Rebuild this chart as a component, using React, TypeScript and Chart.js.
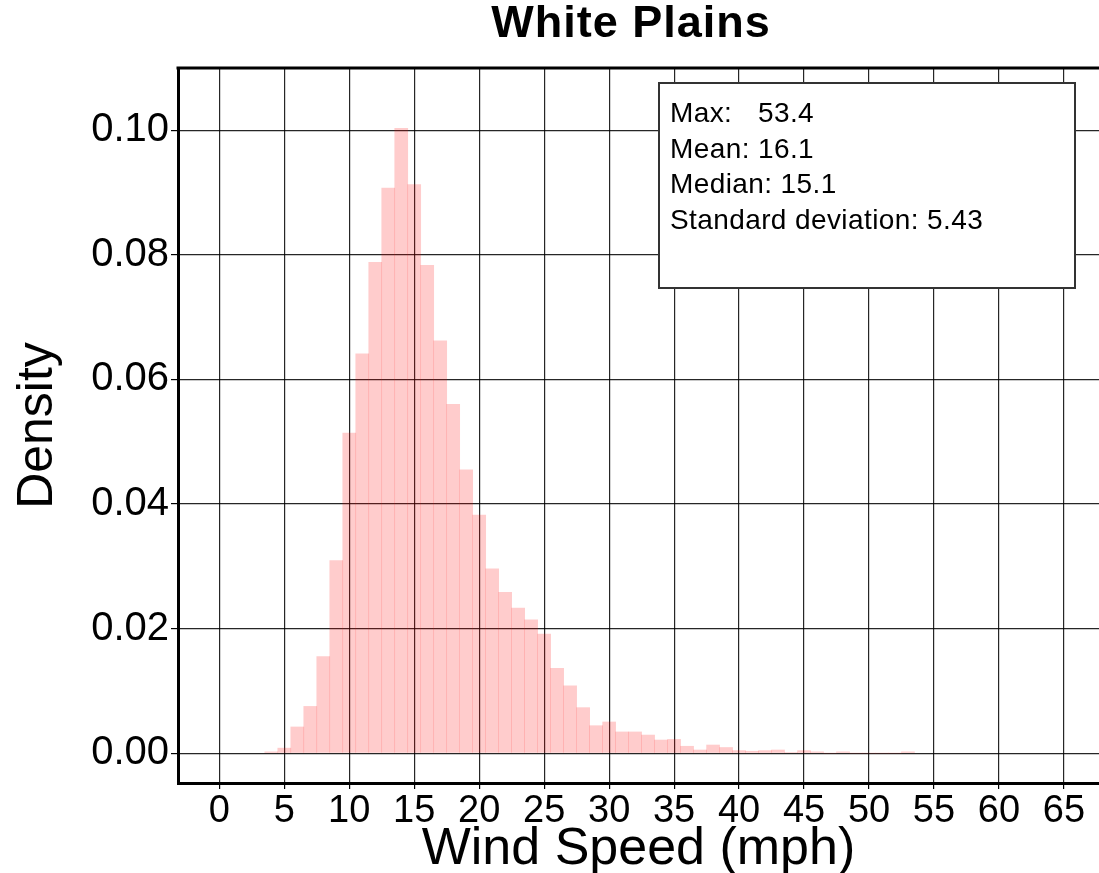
import React, { useEffect, useRef } from "react";
import { Chart, registerables } from "chart.js";

Chart.register(...registerables);

const chartTitle = "White Plains";
const xAxisTitle = "Wind Speed (mph)";
const yAxisTitle = "Density";

const binCenters = [
  4, 5, 6, 7, 8, 9, 10, 11, 12, 13, 14, 15, 16, 17, 18, 19, 20, 21, 22, 23, 24, 25, 26, 27, 28,
  29, 30, 31, 32, 33, 34, 35, 36, 37, 38, 39, 40, 41, 42, 43, 44, 45, 46, 47, 48, 49, 50, 51, 52, 53,
];
const densities = [
  0.0002, 0.0008, 0.0042, 0.0075, 0.0155, 0.0309, 0.0514, 0.0641, 0.0788, 0.0907, 0.1003, 0.0913,
  0.0783, 0.0662, 0.056, 0.0455, 0.0382, 0.0296, 0.0258, 0.0233, 0.0214, 0.0191, 0.0136, 0.0108,
  0.0073, 0.0044, 0.005, 0.0034, 0.0034, 0.0029, 0.0021, 0.0022, 0.0011, 0.0005, 0.0013, 0.0009,
  0.0004, 0.0003, 0.0004, 0.0005, 0.0001, 0.0004, 0.0002, 0, 0.0002, 0, 0, 0, 0, 0.0002,
];
const xTicks = [0, 5, 10, 15, 20, 25, 30, 35, 40, 45, 50, 55, 60, 65];
const yTicks = [0, 0.02, 0.04, 0.06, 0.08, 0.1];
const statLabels = ["Max:", "Mean:", "Median:", "Standard deviation:"];
const statValues = ["53.4", "16.1", "15.1", "5.43"];

const FONT = "'Liberation Sans', Arial, Helvetica, sans-serif";

const decorPlugin = {
  id: "decor",
  afterDraw(chart: any) {
    const { ctx, chartArea } = chart;
    ctx.save();
    // top frame line
    ctx.strokeStyle = "#000";
    ctx.lineWidth = 3;
    ctx.beginPath();
    ctx.moveTo(chartArea.left - 1.5, chartArea.top);
    ctx.lineTo(chartArea.right, chartArea.top);
    ctx.stroke();

    // title
    ctx.fillStyle = "#000";
    ctx.font = `bold 45px ${FONT}`;
    (ctx as any).letterSpacing = "1px";
    ctx.textAlign = "center";
    ctx.textBaseline = "alphabetic";
    ctx.fillText(chartTitle, 631, 37);

    // stats box
    const bx = 659, by = 83, bw = 416, bh = 205;
    ctx.fillStyle = "#fff";
    ctx.fillRect(bx, by, bw, bh);
    ctx.strokeStyle = "#333";
    ctx.lineWidth = 2;
    ctx.strokeRect(bx, by, bw, bh);
    ctx.fillStyle = "#000";
    ctx.font = `28px ${FONT}`;
    (ctx as any).letterSpacing = "0.4px";
    ctx.textAlign = "left";
    statLabels.forEach((lab, i) => {
      const y = 122 + i * 35.5;
      if (i === 0) {
        ctx.fillText(lab, 670, y);
        ctx.fillText(statValues[i], 758, y);
      } else {
        ctx.fillText(`${lab} ${statValues[i]}`, 670, y);
      }
    });
    ctx.restore();
  },
};

export default function App() {
  const ref = useRef<HTMLCanvasElement | null>(null);
  useEffect(() => {
    if (!ref.current) return;
    const chart = new Chart(ref.current, {
      type: "bar",
      data: {
        datasets: [
          {
            data: binCenters.map((x, i) => ({ x, y: densities[i] })),
            backgroundColor: "rgba(255,0,0,0.2)",
            borderWidth: 0,
            barPercentage: 1,
            categoryPercentage: 1,
          },
        ],
      },
      options: {
        responsive: false,
        animation: false,
        layout: { padding: { top: 68, right: 0, left: 0, bottom: 0 } },
        plugins: { legend: { display: false }, tooltip: { enabled: false }, title: { display: false } },
        scales: {
          x: {
            type: "linear",
            offset: false,
            min: -3.18,
            max: 67.7,
            afterBuildTicks: (s: any) => {
              s.ticks = xTicks.map((v) => ({ value: v }));
            },
            afterFit: (s: any) => {
              s.height = 90;
            },
            grid: { offset: false, color: "rgba(0,0,0,0.85)", lineWidth: 1.2, drawTicks: true, tickLength: 6, tickColor: "#000" },
            border: { display: true, color: "#000", width: 3 },
            ticks: { color: "#000", font: { family: FONT, size: 38 }, padding: 0, maxRotation: 0, autoSkip: false },
            title: { display: true, text: xAxisTitle, color: "#000", font: { family: FONT, size: 52, lineHeight: 0.9 }, padding: { top: 1, bottom: 0 } },
          },
          y: {
            type: "linear",
            min: -0.0048,
            max: 0.11,
            afterBuildTicks: (s: any) => {
              s.ticks = yTicks.map((v) => ({ value: v }));
            },
            afterFit: (s: any) => {
              s.width = 178;
            },
            grid: { color: "rgba(0,0,0,0.85)", lineWidth: 1.2, drawTicks: true, tickLength: 7, tickColor: "#000" },
            border: { display: true, color: "#000", width: 3 },
            ticks: { color: "#000", font: { family: FONT, size: 40 }, padding: 2, callback: (v: any) => Number(v).toFixed(2) },
            title: { display: true, text: yAxisTitle, color: "#000", font: { family: FONT, size: 50, lineHeight: 1 }, padding: { top: 13, bottom: 0 } },
          },
        },
      },
      plugins: [decorPlugin],
    } as any);
    return () => chart.destroy();
  }, []);
  return (
    <div style={{ position: "fixed", left: 0, top: 0, width: 1099, height: 873, background: "#fff" }}>
      <canvas ref={ref} width={1099} height={873} style={{ display: "block" }} />
    </div>
  );
}
